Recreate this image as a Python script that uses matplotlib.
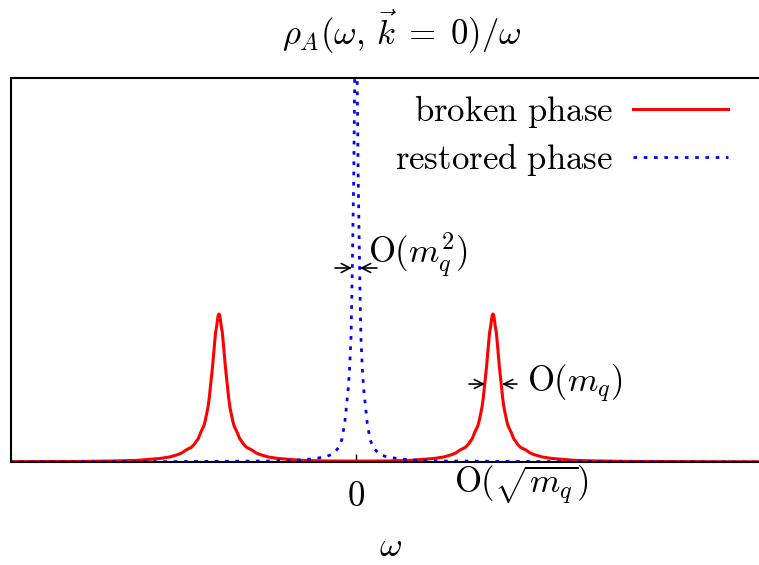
import matplotlib
matplotlib.use("Agg")
import matplotlib.pyplot as plt

plt.rcParams['mathtext.fontset'] = 'cm'
plt.rcParams['font.family'] = 'DejaVu Serif'

# broken phase: two peaks at +-1 (omega in units of the peak position)
red_omega = [-3.2, -2.6, -2.0, -1.77, -1.6, -1.43, -1.36, -1.3, -1.27, -1.24, -1.2, -1.18,
             -1.15, -1.135, -1.11, -1.1, -1.08, -1.07, -1.061, -1.047, -1.036, -1.025,
             -1.018, -1.012, -1.006, -1.0, -0.994, -0.988, -0.982, -0.975, -0.964,
             -0.953, -0.939, -0.93, -0.92, -0.9, -0.89, -0.865, -0.85, -0.82, -0.8,
             -0.76, -0.73, -0.7, -0.64, -0.57, -0.4, -0.23, 0.0,
             0.23, 0.4, 0.57, 0.64, 0.7, 0.73, 0.76, 0.8, 0.82, 0.85, 0.865, 0.89, 0.9,
             0.92, 0.93, 0.939, 0.953, 0.964, 0.975, 0.982, 0.988, 0.994, 1.0, 1.006,
             1.012, 1.018, 1.025, 1.036, 1.047, 1.061, 1.07, 1.08, 1.1, 1.11, 1.135,
             1.15, 1.18, 1.2, 1.24, 1.27, 1.3, 1.36, 1.43, 1.6, 1.77, 2.0, 2.6, 3.2]
red_rho = [0.001, 0.002, 0.004, 0.007, 0.011, 0.024, 0.034, 0.05, 0.062, 0.081, 0.1, 0.12,
           0.16, 0.196, 0.245, 0.28, 0.37, 0.44, 0.52, 0.642, 0.76, 0.872,
           0.91, 0.95, 0.99, 1.0, 0.99, 0.95, 0.91, 0.872, 0.76,
           0.642, 0.52, 0.44, 0.37, 0.28, 0.245, 0.196, 0.16, 0.12, 0.1,
           0.081, 0.062, 0.05, 0.034, 0.024, 0.011, 0.007, 0.006,
           0.007, 0.011, 0.024, 0.034, 0.05, 0.062, 0.081, 0.1, 0.12, 0.16, 0.196, 0.245, 0.28,
           0.37, 0.44, 0.52, 0.642, 0.76, 0.872, 0.91, 0.95, 0.99, 1.0, 0.99,
           0.95, 0.91, 0.872, 0.76, 0.642, 0.52, 0.44, 0.37, 0.28, 0.245, 0.196,
           0.16, 0.12, 0.1, 0.081, 0.062, 0.05, 0.034, 0.024, 0.011, 0.007, 0.004, 0.002, 0.001]

# restored phase: one narrow peak at 0
blue_omega = [-3.2, -1.5, -0.58, -0.42, -0.33, -0.225, -0.17, -0.128, -0.104, -0.082,
              -0.067, -0.055, -0.047, -0.036, -0.031, -0.026, -0.016, -0.008, 0.0,
              0.008, 0.016, 0.026, 0.031, 0.036, 0.047, 0.055, 0.067, 0.082, 0.104,
              0.128, 0.17, 0.225, 0.33, 0.42, 0.58, 1.5, 3.2]
blue_rho = [0.0, 0.002, 0.007, 0.014, 0.02, 0.034, 0.054, 0.095, 0.149, 0.264,
            0.399, 0.509, 0.622, 0.847, 1.074, 1.351, 1.94, 2.7, 3.2,
            2.7, 1.94, 1.351, 1.074, 0.847, 0.622, 0.509, 0.399, 0.264, 0.149,
            0.095, 0.054, 0.034, 0.02, 0.014, 0.007, 0.002, 0.0]

FS = 25

fig = plt.figure(figsize=(7.59, 5.65), dpi=100)
ax = fig.add_axes([11 / 759, 1 - 462 / 565, 748 / 759, 384 / 565])

ax.plot(red_omega, red_rho, color='#ff0000', lw=2.2, solid_joinstyle='round',
        label=r'$\mathrm{broken\ phase}$')
ax.plot(blue_omega, blue_rho, color='#0000ff', lw=2, linestyle=(0, (1.3, 2.4)),
        label=r'$\mathrm{restored\ phase}$')

ax.set_xlim(-2.518, 2.942)
ax.set_ylim(0, 2.595)

for s in ['top', 'left', 'bottom']:
    ax.spines[s].set_linewidth(1.5)
ax.spines['right'].set_visible(False)

ax.set_yticks([])
ax.set_xticks([0])
ax.set_xticklabels(['$0$'], fontsize=FS)
ax.tick_params(axis='x', direction='in', length=6, width=1, pad=12)
ax.set_xlabel(r'$\omega$', fontsize=FS, labelpad=12, x=0.507)
ax.set_title(r'$\rho_A(\omega,\,\vec{k}\;=\;0)/\omega$', fontsize=FS, pad=24, x=0.523)

# width markers
arr = dict(arrowstyle='->', lw=1.2, color='black', shrinkA=0, shrinkB=0, mutation_scale=16)
ax.annotate('', xy=(-0.029, 1.311), xytext=(-0.153, 1.311), arrowprops=arr)
ax.annotate('', xy=(0.029, 1.311), xytext=(0.153, 1.311), arrowprops=arr)
ax.text(0.085, 1.40, r'$\mathrm{O}(m_q^2)$', fontsize=FS, va='center', ha='left')

ax.annotate('', xy=(0.942, 0.527), xytext=(0.825, 0.527), arrowprops=arr)
ax.annotate('', xy=(1.066, 0.527), xytext=(1.175, 0.527), arrowprops=arr)
ax.text(1.25, 0.527, r'$\mathrm{O}(m_q)$', fontsize=FS, va='center', ha='left')

ax.text(1.21, -0.155, r'$\mathrm{O}(\sqrt{m_q})$', fontsize=FS, va='center', ha='center',
        clip_on=False)

ax.legend(loc='upper right', bbox_to_anchor=(0.9586, 0.96), frameon=False,
          markerfirst=False, fontsize=FS, handlelength=2.75, handletextpad=0.55,
          borderpad=0, borderaxespad=0, labelspacing=0.3)

fig.savefig('out.png', dpi=100)
